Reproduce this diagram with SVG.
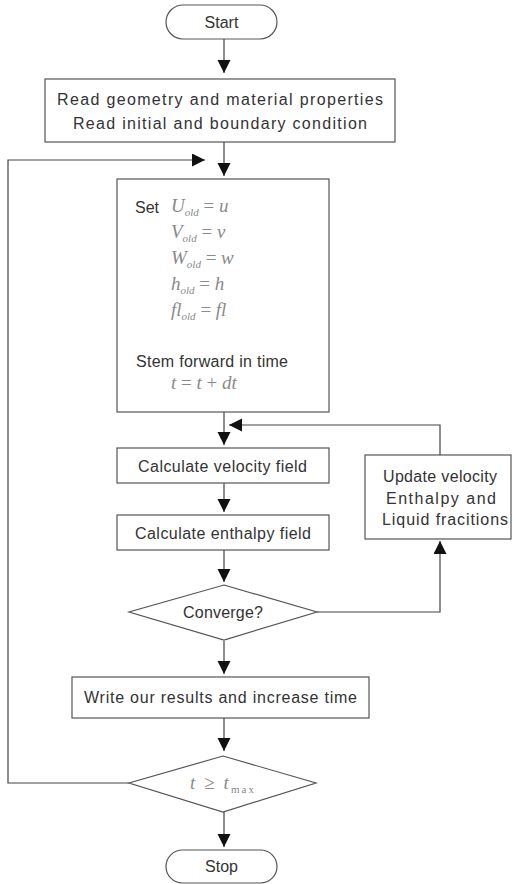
<svg xmlns="http://www.w3.org/2000/svg" width="513" height="884" viewBox="0 0 513 884">
<style>
.box{fill:#fff;stroke:#555;stroke-width:1.2}
.t{font-family:"Liberation Sans",Arial,sans-serif;font-size:16px;fill:#333}
.m{font-family:"Liberation Serif","Times New Roman",serif;font-size:19px;fill:#8a8a8a}
.mi{font-style:italic}
.sub{font-size:11px}
.c{fill:none;stroke:#444;stroke-width:1.2}
</style>
<defs>
<marker id="ah" markerUnits="userSpaceOnUse" markerWidth="14" markerHeight="14" refX="13" refY="6.5" orient="auto">
<path d="M0,0 L13,6.5 L0,13 z" fill="#111"/>
</marker>
</defs>
<rect width="513" height="884" fill="#fff"/>
<g id="connectors">
<line class="c" x1="224" y1="39" x2="224" y2="73" marker-end="url(#ah)"/>
<line class="c" x1="224" y1="142" x2="224" y2="176" marker-end="url(#ah)"/>
<polyline class="c" points="129,783 8,783 8,160 205,160" marker-end="url(#ah)"/>
<line class="c" x1="224" y1="412" x2="224" y2="445" marker-end="url(#ah)"/>
<line class="c" x1="224" y1="483" x2="224" y2="512" marker-end="url(#ah)"/>
<line class="c" x1="224" y1="550" x2="224" y2="582" marker-end="url(#ah)"/>
<line class="c" x1="224" y1="641" x2="224" y2="674" marker-end="url(#ah)"/>
<polyline class="c" points="317,612 440,612 440,541" marker-end="url(#ah)"/>
<polyline class="c" points="440,455 440,425 229,425" marker-end="url(#ah)"/>
<line class="c" x1="224" y1="718" x2="224" y2="751" marker-end="url(#ah)"/>
<line class="c" x1="224" y1="812" x2="224" y2="847" marker-end="url(#ah)"/>
</g>
<g id="start">
<rect class="box" x="166" y="5" width="111" height="34" rx="17"/>
<text class="t" x="221.5" y="28" text-anchor="middle">Start</text>
</g>
<g id="read">
<rect class="box" x="45" y="79" width="350" height="63"/>
<text class="t" x="57" y="105" textLength="326" lengthAdjust="spacing">Read geometry and material properties</text>
<text class="t" x="73" y="129" textLength="294" lengthAdjust="spacing">Read initial and boundary condition</text>
</g>
<g id="set">
<rect class="box" x="117" y="179" width="212" height="233"/>
<text class="t" x="135" y="213">Set</text>
<text class="m" x="171" y="212"><tspan class="mi">U</tspan><tspan class="sub mi" dy="4">old</tspan><tspan dy="-4"> = </tspan><tspan class="mi">u</tspan></text>
<text class="m" x="171" y="238"><tspan class="mi">V</tspan><tspan class="sub mi" dy="4">old</tspan><tspan dy="-4"> = </tspan><tspan class="mi">v</tspan></text>
<text class="m" x="171" y="264"><tspan class="mi">W</tspan><tspan class="sub mi" dy="4">old</tspan><tspan dy="-4"> = </tspan><tspan class="mi">w</tspan></text>
<text class="m" x="171" y="290"><tspan class="mi">h</tspan><tspan class="sub mi" dy="4">old</tspan><tspan dy="-4"> = </tspan><tspan class="mi">h</tspan></text>
<text class="m" x="171" y="316"><tspan class="mi">fl</tspan><tspan class="sub mi" dy="4">old</tspan><tspan dy="-4"> = </tspan><tspan class="mi">fl</tspan></text>
<text class="t" x="136" y="367" textLength="152" lengthAdjust="spacing">Stem forward in time</text>
<text class="m" x="171" y="389"><tspan class="mi">t</tspan> = <tspan class="mi">t</tspan> + <tspan class="mi">dt</tspan></text>
</g>
<g id="velocity">
<rect class="box" x="117" y="448" width="212" height="35"/>
<text class="t" x="138" y="471.5" textLength="169" lengthAdjust="spacing">Calculate velocity field</text>
</g>
<g id="enthalpy">
<rect class="box" x="117" y="515" width="212" height="35"/>
<text class="t" x="135" y="538.5" textLength="176" lengthAdjust="spacing">Calculate enthalpy field</text>
</g>
<g id="update">
<rect class="box" x="365" y="455" width="146" height="84"/>
<text class="t" x="383" y="482" textLength="114" lengthAdjust="spacing">Update velocity</text>
<text class="t" x="386" y="503.5" textLength="110" lengthAdjust="spacing">Enthalpy and</text>
<text class="t" x="382" y="525" textLength="126" lengthAdjust="spacing">Liquid fracitions</text>
</g>
<g id="converge">
<polygon class="box" points="224,585 317,612 224,640 129,612"/>
<text class="t" x="183" y="618" textLength="80" lengthAdjust="spacing">Converge?</text>
</g>
<g id="write">
<rect class="box" x="72" y="677" width="297" height="41"/>
<text class="t" x="84" y="703" textLength="273" lengthAdjust="spacing">Write our results and increase time</text>
</g>
<g id="tmax">
<polygon class="box" points="223,756 316,783 223,812 129,783"/>
<text class="m" x="190" y="789" textLength="64" lengthAdjust="spacing"><tspan class="mi">t</tspan> ≥ <tspan class="mi">t</tspan><tspan class="sub" dy="4">max</tspan></text>
</g>
<g id="stop">
<rect class="box" x="166" y="850" width="111" height="33" rx="16.5"/>
<text class="t" x="221.5" y="872" text-anchor="middle">Stop</text>
</g>
</svg>
